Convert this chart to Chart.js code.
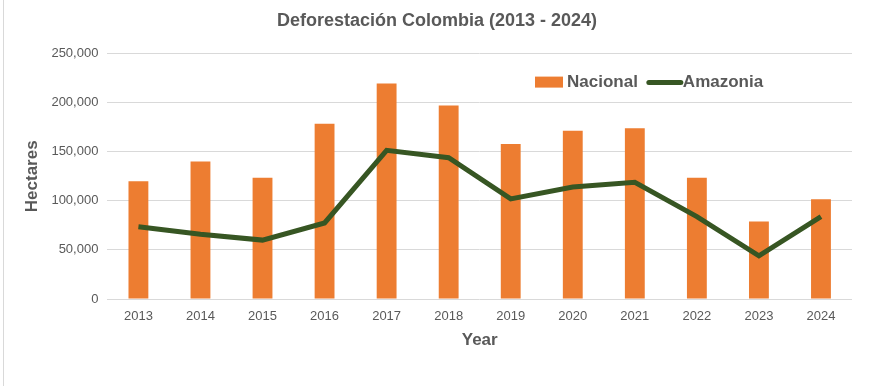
<!DOCTYPE html>
<html lang="en">
<head>
  <meta charset="UTF-8">
  <title>Deforestación Colombia</title>
  <script src="https://cdn.jsdelivr.net/npm/chart.js"></script>
  <style>
    html, body { margin: 0; padding: 0; background: #fff; }
    .container { position: relative; width: 869px; height: 386px; }
    .edge { position: absolute; left: 3px; top: 0; width: 1px; height: 386px; background: #d9d9d9; }
  </style>
</head>
<body>
  <div class="container">
    <div class="edge"></div>
    <canvas id="deforestChart" width="869" height="386"></canvas>
  </div>

  <script>
    const years = ['2013', '2014', '2015', '2016', '2017', '2018', '2019', '2020', '2021', '2022', '2023', '2024'];
    const nacional = [120000, 140000, 123500, 178500, 219500, 197000, 158000, 171500, 174000, 123500, 79000, 101500];
    const amazonia = [73500, 66000, 60000, 77500, 151500, 144000, 102000, 114000, 119000, 84000, 44000, 84000];
    const yTicks = [0, 50000, 100000, 150000, 200000, 250000];

    const textGray = '#595959';
    const font = 'Liberation Sans';

    // legend sits inside the plot, top right, like the Excel original
    const insideLegend = {
      id: 'insideLegend',
      afterDraw(chart) {
        const ctx = chart.ctx;
        const area = chart.chartArea;
        const y = area.top + 28;
        let x = area.right - 317;
        ctx.save();
        ctx.font = 'bold 17px "' + font + '"';
        ctx.textBaseline = 'middle';
        ctx.fillStyle = chart.data.datasets[1].backgroundColor;
        ctx.fillRect(x, y - 5, 28, 11);
        x += 32;
        ctx.fillStyle = textGray;
        ctx.fillText(chart.data.datasets[1].label, x, y + 1);
        x += ctx.measureText(chart.data.datasets[1].label).width + 11;
        ctx.strokeStyle = chart.data.datasets[0].borderColor;
        ctx.lineWidth = 5;
        ctx.lineCap = 'round';
        ctx.beginPath();
        ctx.moveTo(x, y + 1);
        ctx.lineTo(x + 32, y + 1);
        ctx.stroke();
        x += 34;
        ctx.fillText(chart.data.datasets[0].label, x, y + 1);
        ctx.restore();
      }
    };

    const ctx = document.getElementById('deforestChart').getContext('2d');
    new Chart(ctx, {
      data: {
        labels: years,
        datasets: [
          {
            type: 'line',
            label: 'Amazonia',
            data: amazonia,
            borderColor: '#375623',
            borderWidth: 5,
            pointRadius: 0,
            tension: 0,
            order: 0
          },
          {
            type: 'bar',
            label: 'Nacional',
            data: nacional,
            backgroundColor: '#ED7D31',
            categoryPercentage: 1,
            barPercentage: 0.32,
            order: 1
          }
        ]
      },
      plugins: [insideLegend],
      options: {
        responsive: false,
        animation: false,
        layout: { padding: { left: 22, right: 17, top: 8, bottom: 31 } },
        plugins: {
          legend: { display: false },
          tooltip: { enabled: false },
          title: {
            display: true,
            text: 'Deforestación Colombia (2013 - 2024)',
            color: textGray,
            font: { family: font, size: 18, weight: 'bold' },
            padding: { top: 2, bottom: 22 }
          }
        },
        scales: {
          x: {
            offset: true,
            grid: { display: false },
            border: { display: false },
            ticks: { color: textGray, font: { family: font, size: 13 }, padding: 2 },
            title: {
              display: true,
              text: 'Year',
              color: textGray,
              font: { family: font, size: 17, weight: 'bold' },
              padding: { top: 4 }
            }
          },
          y: {
            min: 0,
            max: 250000,
            afterBuildTicks(axis) {
              axis.ticks = yTicks.map(v => ({ value: v }));
            },
            grid: { color: '#d9d9d9', lineWidth: 1, drawTicks: false },
            border: { display: false },
            ticks: {
              color: textGray,
              font: { family: font, size: 13 },
              padding: 9,
              callback: v => v.toLocaleString('en-US')
            },
            title: {
              display: true,
              text: 'Hectares',
              color: textGray,
              font: { family: font, size: 17, weight: 'bold' },
              padding: 0
            }
          }
        }
      }
    });
  </script>
</body>
</html>
